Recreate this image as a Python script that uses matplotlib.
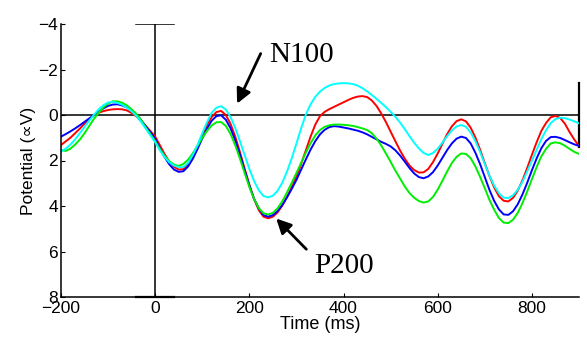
import matplotlib
matplotlib.use("Agg")
import matplotlib.pyplot as plt
import numpy as np

# time axis (ms) and the four averaged waveforms (microvolts)
times = np.arange(-200, 901, 10)

blue = [0.95, 0.84, 0.72, 0.59, 0.45, 0.30, 0.15, 0.00, -0.15, -0.29,
        -0.40, -0.46, -0.47, -0.42, -0.33, -0.19, -0.02, 0.22, 0.50, 0.77,
        1.05, 1.47, 1.85, 2.17, 2.40, 2.50, 2.47, 2.26, 1.92, 1.49,
        1.03, 0.60, 0.25, 0.05, 0.01, 0.21, 0.58, 1.12, 1.75, 2.44,
        3.10, 3.69, 4.10, 4.40, 4.47, 4.40, 4.22, 3.95, 3.62, 3.25,
        2.85, 2.40, 1.95, 1.52, 1.15, 0.85, 0.65, 0.53, 0.49, 0.51,
        0.55, 0.59, 0.64, 0.69, 0.76, 0.85, 0.96, 1.07, 1.18, 1.27,
        1.38, 1.55, 1.78, 2.05, 2.33, 2.57, 2.73, 2.78, 2.70, 2.51,
        2.22, 1.88, 1.54, 1.25, 1.04, 0.95, 1.01, 1.25, 1.66, 2.16,
        2.73, 3.30, 3.78, 4.15, 4.37, 4.39, 4.23, 3.92, 3.49, 2.98,
        2.43, 1.91, 1.46, 1.14, 0.97, 0.96, 1.01, 1.10, 1.20, 1.29,
        1.36]
red = [1.32, 1.16, 1.00, 0.80, 0.60, 0.38, 0.18, 0.02, -0.10, -0.17,
       -0.22, -0.25, -0.26, -0.25, -0.20, -0.09, 0.06, 0.26, 0.48, 0.71,
       0.95, 1.33, 1.72, 2.05, 2.28, 2.40, 2.38, 2.17, 1.82, 1.38,
       0.90, 0.44, 0.09, -0.13, -0.18, 0.00, 0.39, 0.95, 1.63, 2.36,
       3.07, 3.69, 4.18, 4.47, 4.54, 4.47, 4.28, 3.98, 3.60, 3.17,
       2.70, 2.15, 1.55, 0.95, 0.42, 0.05, -0.14, -0.26, -0.36, -0.46,
       -0.56, -0.66, -0.75, -0.81, -0.83, -0.79, -0.64, -0.40, -0.07, 0.31,
       0.73, 1.15, 1.56, 1.92, 2.22, 2.42, 2.53, 2.52, 2.37, 2.07,
       1.69, 1.26, 0.84, 0.50, 0.27, 0.19, 0.28, 0.56, 0.99, 1.53,
       2.12, 2.69, 3.19, 3.57, 3.77, 3.80, 3.64, 3.32, 2.87, 2.33,
       1.75, 1.20, 0.70, 0.35, 0.10, 0.04, 0.13, 0.38, 0.75, 1.08,
       1.36]
green = [1.54, 1.58, 1.48, 1.30, 1.08, 0.80, 0.48, 0.17, -0.10, -0.33,
         -0.50, -0.60, -0.60, -0.54, -0.42, -0.25, -0.05, 0.22, 0.55, 0.85,
         1.15, 1.50, 1.80, 2.03, 2.18, 2.24, 2.15, 1.96, 1.68, 1.35,
         1.01, 0.70, 0.46, 0.32, 0.31, 0.48, 0.83, 1.33, 1.92, 2.55,
         3.17, 3.69, 4.09, 4.32, 4.37, 4.30, 4.10, 3.79, 3.40, 2.98,
         2.55, 2.10, 1.65, 1.24, 0.90, 0.66, 0.52, 0.45, 0.42, 0.42,
         0.43, 0.45, 0.48, 0.53, 0.59, 0.66, 0.80, 1.04, 1.34, 1.69,
         2.06, 2.44, 2.79, 3.14, 3.43, 3.64, 3.78, 3.85, 3.80, 3.60,
         3.28, 2.89, 2.48, 2.11, 1.84, 1.69, 1.71, 1.90, 2.26, 2.72,
         3.22, 3.74, 4.17, 4.53, 4.73, 4.75, 4.60, 4.30, 3.87, 3.36,
         2.82, 2.29, 1.82, 1.49, 1.25, 1.20, 1.24, 1.35, 1.49, 1.62,
         1.71]
cyan = [1.61, 1.48, 1.30, 1.07, 0.80, 0.52, 0.25, -0.01, -0.25, -0.43,
        -0.55, -0.58, -0.53, -0.45, -0.32, -0.16, 0.04, 0.30, 0.60, 0.90,
        1.20, 1.55, 1.85, 2.08, 2.22, 2.29, 2.29, 2.10, 1.75, 1.31,
        0.80, 0.32, -0.10, -0.32, -0.39, -0.24, 0.09, 0.57, 1.15, 1.77,
        2.37, 2.90, 3.31, 3.56, 3.62, 3.55, 3.33, 2.97, 2.48, 1.90,
        1.25, 0.58, -0.02, -0.47, -0.80, -1.03, -1.19, -1.30, -1.36, -1.39,
        -1.40, -1.39, -1.36, -1.29, -1.18, -1.04, -0.88, -0.71, -0.53, -0.35,
        -0.14, 0.08, 0.33, 0.62, 0.93, 1.22, 1.47, 1.67, 1.76, 1.67,
        1.48, 1.21, 0.93, 0.68, 0.50, 0.44, 0.52, 0.77, 1.15, 1.63,
        2.16, 2.67, 3.11, 3.44, 3.63, 3.65, 3.53, 3.28, 2.93, 2.48,
        2.01, 1.53, 1.06, 0.67, 0.36, 0.18, 0.12, 0.14, 0.20, 0.28,
        0.37]

xticks = [-200, 0, 200, 400, 600, 800]
yticks = [-4, -2, 0, 2, 4, 6, 8]

plt.rcParams['font.family'] = ['Liberation Sans', 'DejaVu Sans']

fig = plt.figure(figsize=(5.87, 3.39), dpi=100)
ax = fig.add_axes([61/587, 1-297/339, (579-61)/587, (297-24)/339])

ax.axhline(0, color="k", lw=1.1)
ax.plot([0, 0], [-4, 8], color="k", lw=1.1)
ax.plot([-40, 40], [-4, -4], color="k", lw=1.1)
ax.plot([-40, 40], [8, 8], color="k", lw=1.6, clip_on=False)
ax.plot([900, 900], [-1.4, 1.4], color="k", lw=1.6, clip_on=False)

ax.plot(times, red, color="#ff0000", lw=1.4)
ax.plot(times, blue, color="#0000ff", lw=1.4)
ax.plot(times, green, color="#00ee00", lw=1.4)
ax.plot(times, cyan, color="#00ffff", lw=1.4)

ax.set_xlim(-200, 900)
ax.set_ylim(8, -4)
ax.set_xticks(xticks)
ax.set_yticks(yticks)
ax.tick_params(direction="in", length=3, labelsize=12.5, pad=3)
ax.tick_params(axis="y", pad=2)
for s in ["top", "right"]:
    ax.spines[s].set_visible(False)
for s in ["left", "bottom"]:
    ax.spines[s].set_linewidth(1.1)

ax.set_xlabel("Time (ms)", fontsize=13, labelpad=0)
ax.set_ylabel("Potential (\u221dV)", fontsize=12.5, labelpad=2)

arrow = dict(arrowstyle="-|>", lw=2, color="k", mutation_scale=22, shrinkA=0, shrinkB=0)
ax.annotate("", xy=(174, -0.5), xytext=(224, -2.7), arrowprops=arrow)
ax.annotate("", xy=(257, 4.55), xytext=(321, 5.9), arrowprops=arrow)
ax.text(242, -2.32, "N100", family="Liberation Serif", fontsize=21, ha="left", va="baseline")
ax.text(337, 6.93, "P200", family="Liberation Serif", fontsize=21, ha="left", va="baseline")

fig.savefig("out.png", dpi=100)
